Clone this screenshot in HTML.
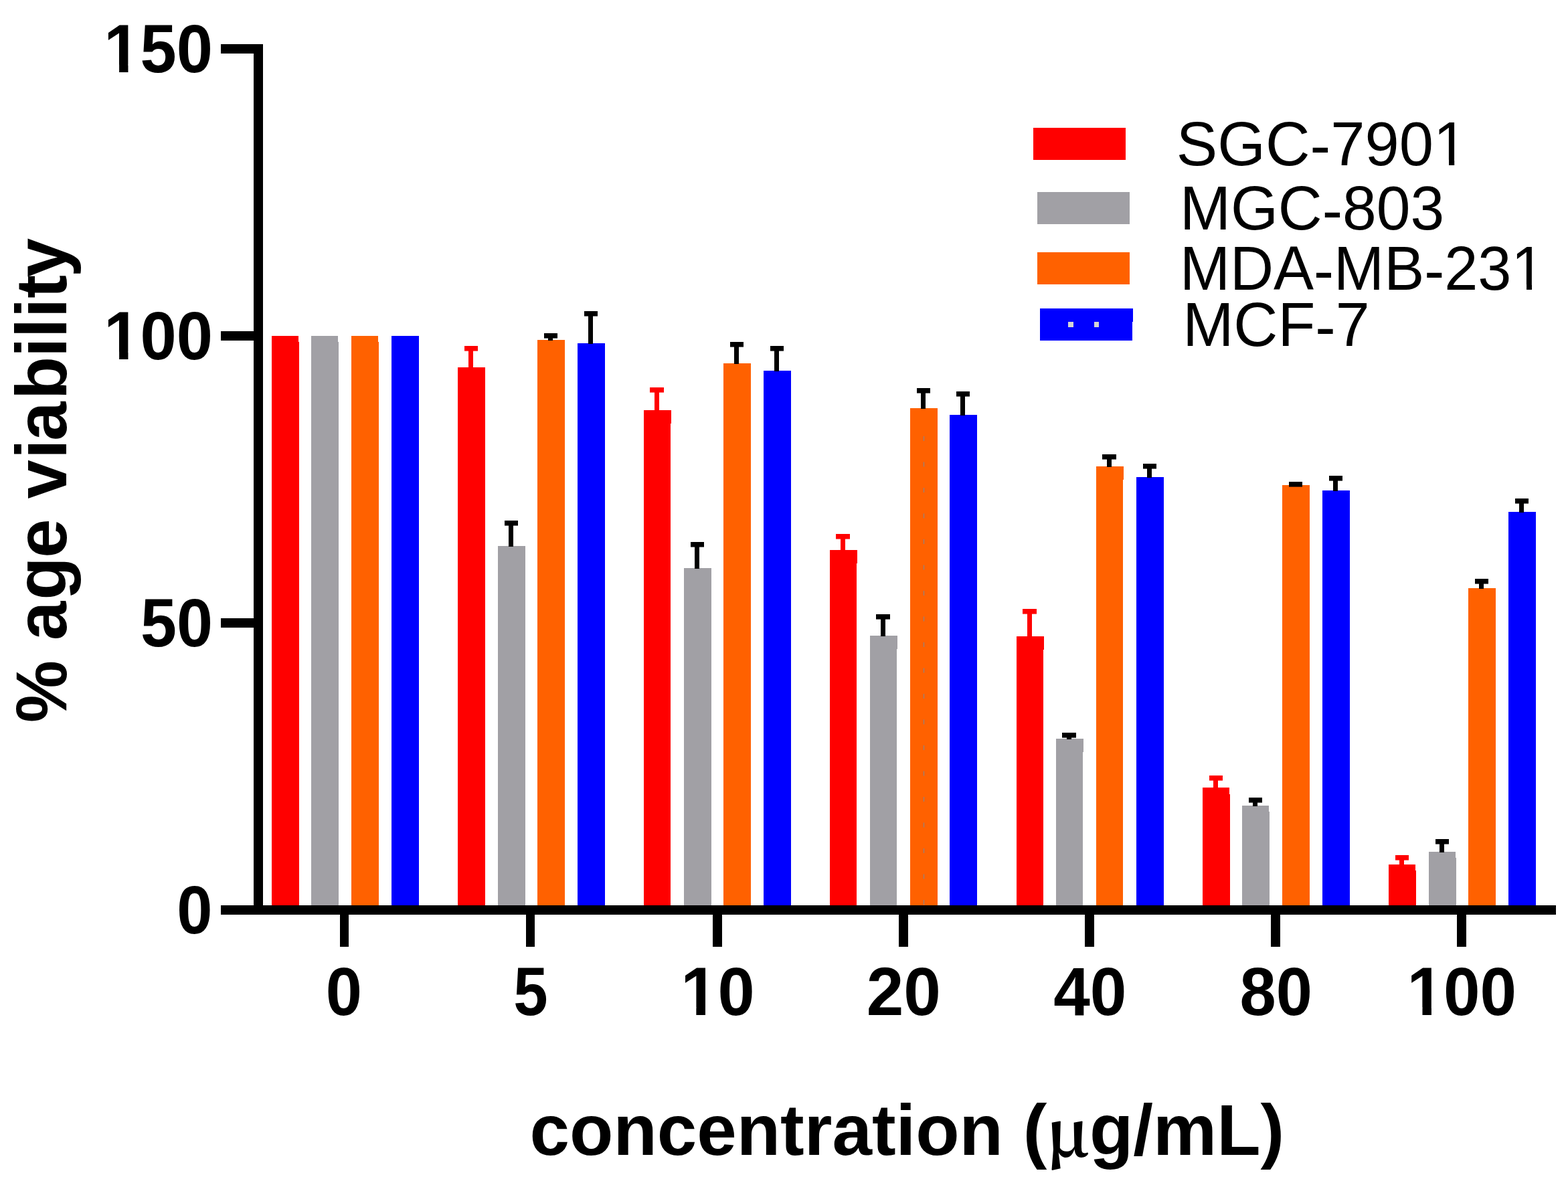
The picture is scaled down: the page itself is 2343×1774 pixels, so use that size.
<!DOCTYPE html>
<html><head><meta charset="utf-8"><title>Cell viability bar chart</title>
<style>html,body{margin:0;padding:0;background:#fff;overflow:hidden;}svg{display:block;}</style></head>
<body><svg width="2343" height="1774" viewBox="0 0 2343 1774">
<rect x="0" y="0" width="2343" height="1774" fill="#fff"/>
<rect x="406" y="502" width="40" height="9" fill="#FF0000"/>
<rect x="406" y="511" width="41" height="842" fill="#FF0000"/>
<rect x="465" y="502" width="40" height="9" fill="#A1A0A5"/>
<rect x="465" y="511" width="41" height="842" fill="#A1A0A5"/>
<rect x="525" y="502" width="40" height="9" fill="#FF6100"/>
<rect x="525" y="511" width="41" height="842" fill="#FF6100"/>
<rect x="585" y="502" width="41" height="851" fill="#0000FF"/>
<rect x="684" y="549" width="41" height="804" fill="#FF0000"/>
<rect x="744" y="816" width="41" height="537" fill="#A1A0A5"/>
<rect x="803" y="508" width="41" height="845" fill="#FF6100"/>
<rect x="863" y="513" width="41" height="840" fill="#0000FF"/>
<rect x="962" y="613" width="41" height="20" fill="#FF0000"/>
<rect x="962" y="633" width="40" height="720" fill="#FF0000"/>
<rect x="1022" y="849" width="41" height="504" fill="#A1A0A5"/>
<rect x="1081" y="543" width="41" height="810" fill="#FF6100"/>
<rect x="1141" y="554" width="41" height="799" fill="#0000FF"/>
<rect x="1240" y="822" width="41" height="20" fill="#FF0000"/>
<rect x="1240" y="842" width="40" height="511" fill="#FF0000"/>
<rect x="1300" y="950" width="41" height="20" fill="#A1A0A5"/>
<rect x="1300" y="970" width="40" height="383" fill="#A1A0A5"/>
<rect x="1360" y="610" width="41" height="743" fill="#FF6100"/>
<rect x="1419" y="620" width="41" height="733" fill="#0000FF"/>
<rect x="1519" y="951" width="41" height="20" fill="#FF0000"/>
<rect x="1519" y="971" width="40" height="382" fill="#FF0000"/>
<rect x="1578" y="1104" width="41" height="20" fill="#A1A0A5"/>
<rect x="1578" y="1124" width="40" height="229" fill="#A1A0A5"/>
<rect x="1638" y="697" width="41" height="20" fill="#FF6100"/>
<rect x="1638" y="717" width="40" height="636" fill="#FF6100"/>
<rect x="1698" y="713" width="41" height="640" fill="#0000FF"/>
<rect x="1797" y="1177" width="40" height="10" fill="#FF0000"/>
<rect x="1797" y="1187" width="41" height="166" fill="#FF0000"/>
<rect x="1856" y="1204" width="40" height="9" fill="#A1A0A5"/>
<rect x="1856" y="1213" width="41" height="140" fill="#A1A0A5"/>
<rect x="1916" y="725" width="41" height="628" fill="#FF6100"/>
<rect x="1976" y="733" width="41" height="620" fill="#0000FF"/>
<rect x="2075" y="1292" width="40" height="9" fill="#FF0000"/>
<rect x="2075" y="1301" width="41" height="52" fill="#FF0000"/>
<rect x="2135" y="1273" width="40" height="9" fill="#A1A0A5"/>
<rect x="2135" y="1282" width="41" height="71" fill="#A1A0A5"/>
<rect x="2194" y="879" width="41" height="474" fill="#FF6100"/>
<rect x="2254" y="765" width="41" height="588" fill="#0000FF"/>
<rect x="700" y="517" width="7" height="33" fill="#FF0000"/>
<rect x="694" y="517" width="20" height="7.6" fill="#FF0000"/>
<rect x="760" y="778" width="7" height="39" fill="#000000"/>
<rect x="754" y="778" width="20" height="7.6" fill="#000000"/>
<rect x="819" y="498" width="7" height="11" fill="#000000"/>
<rect x="813" y="498" width="20" height="7.6" fill="#000000"/>
<rect x="879" y="465" width="7" height="49" fill="#000000"/>
<rect x="873" y="465" width="20" height="7.6" fill="#000000"/>
<rect x="978" y="579" width="7" height="35" fill="#FF0000"/>
<rect x="971" y="579" width="21" height="7.6" fill="#FF0000"/>
<rect x="1038" y="810" width="7" height="40" fill="#000000"/>
<rect x="1032" y="810" width="20" height="7.6" fill="#000000"/>
<rect x="1097" y="511" width="7" height="33" fill="#000000"/>
<rect x="1091" y="511" width="20" height="7.6" fill="#000000"/>
<rect x="1157" y="517" width="7" height="38" fill="#000000"/>
<rect x="1151" y="517" width="20" height="7.6" fill="#000000"/>
<rect x="1256" y="798" width="7" height="25" fill="#FF0000"/>
<rect x="1249" y="798" width="21" height="7.6" fill="#FF0000"/>
<rect x="1316" y="918" width="7" height="33" fill="#000000"/>
<rect x="1309" y="918" width="21" height="7.6" fill="#000000"/>
<rect x="1376" y="580" width="7" height="31" fill="#000000"/>
<rect x="1370" y="580" width="20" height="7.6" fill="#000000"/>
<rect x="1435" y="585" width="7" height="36" fill="#000000"/>
<rect x="1429" y="585" width="20" height="7.6" fill="#000000"/>
<rect x="1535" y="910" width="7" height="42" fill="#FF0000"/>
<rect x="1528" y="910" width="21" height="7.6" fill="#FF0000"/>
<rect x="1594" y="1095" width="7" height="10" fill="#000000"/>
<rect x="1587" y="1095" width="21" height="7.6" fill="#000000"/>
<rect x="1654" y="679" width="7" height="19" fill="#000000"/>
<rect x="1647" y="679" width="21" height="7.6" fill="#000000"/>
<rect x="1714" y="693" width="7" height="21" fill="#000000"/>
<rect x="1708" y="693" width="20" height="7.6" fill="#000000"/>
<rect x="1813" y="1159" width="7" height="19" fill="#FF0000"/>
<rect x="1807" y="1159" width="20" height="7.6" fill="#FF0000"/>
<rect x="1872" y="1192" width="7" height="13" fill="#000000"/>
<rect x="1866" y="1192" width="20" height="7.6" fill="#000000"/>
<rect x="1932" y="720" width="7" height="6" fill="#000000"/>
<rect x="1926" y="720" width="20" height="7.6" fill="#000000"/>
<rect x="1992" y="711" width="7" height="23" fill="#000000"/>
<rect x="1986" y="711" width="20" height="7.6" fill="#000000"/>
<rect x="2091" y="1278" width="7" height="15" fill="#FF0000"/>
<rect x="2085" y="1278" width="20" height="7.6" fill="#FF0000"/>
<rect x="2151" y="1254" width="7" height="20" fill="#000000"/>
<rect x="2145" y="1254" width="20" height="7.6" fill="#000000"/>
<rect x="2210" y="865" width="7" height="15" fill="#000000"/>
<rect x="2204" y="865" width="20" height="7.6" fill="#000000"/>
<rect x="2270" y="745" width="7" height="21" fill="#000000"/>
<rect x="2264" y="745" width="20" height="7.6" fill="#000000"/>
<line x1="1380.5" y1="652" x2="1380.5" y2="1353" stroke="#808890" stroke-width="1" stroke-dasharray="7 31.5"/>
<rect x="379" y="66" width="14" height="1301" fill="#000"/>
<rect x="330" y="1353" width="1995" height="14" fill="#000"/>
<rect x="330" y="66" width="63" height="14" fill="#000"/>
<rect x="330" y="495" width="63" height="14" fill="#000"/>
<rect x="330" y="924" width="63" height="14" fill="#000"/>
<rect x="508" y="1367" width="13" height="48" fill="#000"/>
<rect x="786" y="1367" width="13" height="48" fill="#000"/>
<rect x="1065" y="1367" width="14" height="48" fill="#000"/>
<rect x="1343" y="1367" width="14" height="48" fill="#000"/>
<rect x="1621" y="1367" width="14" height="48" fill="#000"/>
<rect x="1899" y="1367" width="14" height="48" fill="#000"/>
<rect x="2177" y="1367" width="14" height="48" fill="#000"/>
<text transform="translate(155.34,108) scale(0.9969,1.04)" x="0" y="0" font-family="Liberation Sans, sans-serif" font-size="97.8" font-weight="bold" style="font-kerning:none">150</text>
<text transform="translate(155.34,537) scale(0.9969,1.04)" x="0" y="0" font-family="Liberation Sans, sans-serif" font-size="97.8" font-weight="bold" style="font-kerning:none">100</text>
<text transform="translate(210.01,966) scale(0.9925,1.04)" x="0" y="0" font-family="Liberation Sans, sans-serif" font-size="97.8" font-weight="bold" style="font-kerning:none">50</text>
<text transform="translate(264.22,1395) scale(0.9782,1.04)" x="0" y="0" font-family="Liberation Sans, sans-serif" font-size="97.8" font-weight="bold" style="font-kerning:none">0</text>
<text transform="translate(486.74,1517) scale(0.9976,1.04)" x="0" y="0" font-family="Liberation Sans, sans-serif" font-size="97.8" font-weight="bold" style="font-kerning:none">0</text>
<text transform="translate(767.16,1517) scale(0.9453,1.04)" x="0" y="0" font-family="Liberation Sans, sans-serif" font-size="97.8" font-weight="bold" style="font-kerning:none">5</text>
<text transform="translate(1017.22,1517) scale(1.0144,1.04)" x="0" y="0" font-family="Liberation Sans, sans-serif" font-size="97.8" font-weight="bold" style="font-kerning:none">10</text>
<text transform="translate(1294.73,1517) scale(1.0229,1.04)" x="0" y="0" font-family="Liberation Sans, sans-serif" font-size="97.8" font-weight="bold" style="font-kerning:none">20</text>
<text transform="translate(1574.21,1517) scale(1.0040,1.04)" x="0" y="0" font-family="Liberation Sans, sans-serif" font-size="97.8" font-weight="bold" style="font-kerning:none">40</text>
<text transform="translate(1852.51,1517) scale(0.9964,1.04)" x="0" y="0" font-family="Liberation Sans, sans-serif" font-size="97.8" font-weight="bold" style="font-kerning:none">80</text>
<text transform="translate(2102.60,1517) scale(1.0021,1.04)" x="0" y="0" font-family="Liberation Sans, sans-serif" font-size="97.8" font-weight="bold" style="font-kerning:none">100</text>
<text transform="translate(791.52,1726) scale(1.0000,1)" x="0" y="0" font-family="Liberation Sans, sans-serif" font-size="107" font-weight="bold" style="font-kerning:none">concentration (</text>
<text transform="translate(1563.14,1728.3) scale(1.034,1)" x="0" y="0" font-family="Noto Serif CJK SC, serif" font-weight="bold" font-size="95">μ</text>
<text transform="translate(1628.00,1726) scale(1.0000,1)" x="0" y="0" font-family="Liberation Sans, sans-serif" font-size="107" font-weight="bold" style="font-kerning:none">g/mL)</text>
<text transform="translate(98.6,0) rotate(-90) scale(0.9703,1)" x="-1113.17 -1017.14 -986.40 -923.89 -859.32 -799.25 -768.44 -706.80 -678.87 -615.39 -550.04 -520.46 -489.65 -459.29 -427.05" y="0" font-family="Liberation Sans, sans-serif" font-size="108" font-weight="bold" style="font-kerning:none">% age viability</text>
<rect x="1544" y="191" width="138" height="48" fill="#FF0000"/>
<rect x="1550" y="287" width="138" height="48" fill="#A1A0A5"/>
<rect x="1550" y="377" width="138" height="48" fill="#FF6100"/>
<rect x="1554" y="461" width="139" height="20" fill="#0000FF"/>
<rect x="1554" y="481" width="138" height="28" fill="#0000FF"/>
<rect x="1596" y="481" width="8" height="8" fill="#D4D4D4"/>
<rect x="1635" y="481" width="7" height="8" fill="#D4D4D4"/>
<text transform="translate(1757.82,246.7) scale(1.0306,1.04)" x="0" y="0" font-family="Liberation Sans, sans-serif" font-size="89.4" font-weight="normal" style="font-kerning:none">SGC<tspan dy="2.5">-</tspan><tspan dy="-2.5">7901</tspan></text>
<text transform="translate(1762.92,343) scale(1.0204,1.04)" x="0" y="0" font-family="Liberation Sans, sans-serif" font-size="89.4" font-weight="normal" style="font-kerning:none">MGC<tspan dy="2.5">-</tspan><tspan dy="-2.5">803</tspan></text>
<text transform="translate(1763.01,433) scale(1.0074,1.04)" x="0" y="0" font-family="Liberation Sans, sans-serif" font-size="89.4" font-weight="normal" style="font-kerning:none">MDA<tspan dy="2.5">-</tspan><tspan dy="-2.5">MB</tspan><tspan dy="2.5">-</tspan><tspan dy="-2.5">231</tspan></text>
<text transform="translate(1767.20,517) scale(1.0230,1.04)" x="0" y="0" font-family="Liberation Sans, sans-serif" font-size="89.4" font-weight="normal" style="font-kerning:none">MCF<tspan dy="2.5">-</tspan><tspan dy="-2.5">7</tspan></text>
<rect x="159.57" y="96.62" width="18.52" height="13.38" fill="#fff"/>
<rect x="191.47" y="96.62" width="17.28" height="13.38" fill="#fff"/>
<rect x="159.57" y="525.62" width="18.52" height="13.38" fill="#fff"/>
<rect x="191.47" y="525.62" width="17.28" height="13.38" fill="#fff"/>
<rect x="1021.53" y="1505.62" width="18.84" height="13.38" fill="#fff"/>
<rect x="1053.99" y="1505.62" width="17.58" height="13.38" fill="#fff"/>
<rect x="2106.86" y="1505.62" width="18.62" height="13.38" fill="#fff"/>
<rect x="2138.92" y="1505.62" width="17.37" height="13.38" fill="#fff"/>
<rect x="2147.11" y="238.75" width="17.95" height="9.95" fill="#fff"/>
<rect x="2173.2" y="238.75" width="17.23" height="9.95" fill="#fff"/>
<rect x="2263.49" y="425.05" width="17.55" height="9.95" fill="#fff"/>
<rect x="2289" y="425.05" width="16.84" height="9.95" fill="#fff"/>
</svg></body></html>
